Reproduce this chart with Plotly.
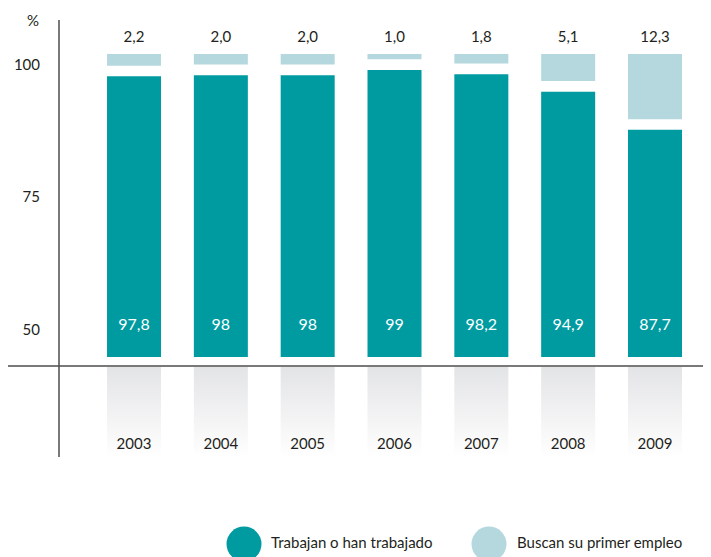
import plotly.graph_objects as go

# ---------------- data ----------------
years = [2003, 2004, 2005, 2006, 2007, 2008, 2009]
trabajan = [97.8, 98, 98, 99, 98.2, 94.9, 87.7]
buscan = [2.2, 2.0, 2.0, 1.0, 1.8, 5.1, 12.3]
y_ticks = [50, 75, 100]
series_names = ["Trabajan o han trabajado", "Buscan su primer empleo"]
unit_label = "%"

# ---------------- style ----------------
DARK = "#009ba1"
LIGHT = "#b5d8de"
TEXT = "#231f20"
LINE = "#4d4d4d"
FONT = "Lato"
OFF = 8                 # page body margin of the html page
W, H = 711 - OFF, 557 - OFF
L = 59 - OFF
PW = W - L
BAR_W = 0.622
GAP = 2.0              # visual gap (axis units) between the two stacked parts
INNER_LABEL_Y = 50.7   # level of the white labels inside dark bars
TOP_LABEL_Y = 104.9    # level of the labels above the light bars
YEAR_LABEL_Y = 0.13    # level of year labels in the decorative band


def fmt_plain(v):
    return ("%g" % v).replace(".", ",")


def fmt_1(v):
    return ("%.1f" % v).replace(".", ",")


def px_x(p):
    return (p - OFF - L) / PW


def px_y(p):
    return (H - (p - OFF)) / H


fig = go.Figure()

fig.add_trace(go.Bar(
    x=years, y=trabajan, width=BAR_W, name=series_names[0],
    marker=dict(color=DARK, line=dict(width=0)), hoverinfo="skip",
))
fig.add_trace(go.Bar(
    x=years, y=buscan, base=[t + GAP for t in trabajan], width=BAR_W,
    name=series_names[1], marker=dict(color=LIGHT, line=dict(width=0)),
    hoverinfo="skip",
))

fig.add_trace(go.Scatter(
    x=years, y=[INNER_LABEL_Y] * len(years), mode="text",
    text=[fmt_plain(v) for v in trabajan],
    textfont=dict(color="white", size=16, family=FONT), hoverinfo="skip",
))
fig.add_trace(go.Scatter(
    x=years, y=[TOP_LABEL_Y] * len(years), mode="text",
    text=[fmt_1(v) for v in buscan],
    textfont=dict(color=TEXT, size=15, family=FONT), hoverinfo="skip",
))

# decorative gradient bands below the axis
for yr in years:
    fig.add_trace(go.Scatter(
        x=[yr - BAR_W / 2, yr + BAR_W / 2, yr + BAR_W / 2, yr - BAR_W / 2, yr - BAR_W / 2],
        y=[0, 0, 1, 1, 0], yaxis="y2", mode="lines", line=dict(width=0),
        fill="toself",
        fillgradient=dict(type="vertical",
                          colorscale=[[0, "#ffffff"], [0.1, "#fcfcfc"], [1, "#e3e4e6"]]),
        hoverinfo="skip",
    ))

fig.add_trace(go.Scatter(
    x=years, y=[YEAR_LABEL_Y] * len(years), yaxis="y2", mode="text",
    text=[str(y) for y in years],
    textfont=dict(color=TEXT, size=15, family=FONT), hoverinfo="skip",
))

shapes = [
    dict(type="line", xref="paper", yref="paper", x0=0, x1=0,
         y0=px_y(457), y1=px_y(20), line=dict(color=LINE, width=1.5)),
    dict(type="line", xref="paper", yref="paper", x0=px_x(8), x1=1,
         y0=px_y(366), y1=px_y(366), line=dict(color=LINE, width=1.5)),
]
annotations = [
    dict(text=unit_label, xref="paper", yref="paper", x=px_x(33), y=px_y(20),
         showarrow=False, xanchor="center", yanchor="middle",
         font=dict(size=15, color=TEXT, family=FONT)),
]
for cx, tx, col, name in [(244, 269, DARK, series_names[0]),
                          (489, 515, LIGHT, series_names[1])]:
    shapes.append(dict(type="circle", xref="paper", yref="paper",
                       xsizemode="pixel", ysizemode="pixel",
                       xanchor=px_x(cx), yanchor=px_y(544),
                       x0=-17.5, x1=17.5, y0=-17.5, y1=17.5,
                       fillcolor=col, line=dict(width=0)))
    annotations.append(dict(text=name, xref="paper", yref="paper",
                            x=px_x(tx), y=px_y(542), showarrow=False,
                            xanchor="left", yanchor="middle",
                            font=dict(size=15, color=TEXT, family=FONT)))

fig.update_layout(
    width=W, height=H, autosize=False,
    margin=dict(l=L, r=0, t=0, b=0),
    paper_bgcolor="white", plot_bgcolor="white",
    barmode="overlay", showlegend=False,
    font=dict(family=FONT, color=TEXT),
    xaxis=dict(range=[2002.136, 2009.645], visible=False, fixedrange=True),
    yaxis=dict(domain=[px_y(357), px_y(20)], range=[44.83, 108.42],
               tickvals=y_ticks, ticktext=[str(v) for v in y_ticks],
               showgrid=False, zeroline=False, showline=False, ticks="",
               ticklabelstandoff=18, tickfont=dict(size=15, color=TEXT, family=FONT),
               fixedrange=True),
    yaxis2=dict(domain=[px_y(457), px_y(367)], range=[0, 1], anchor="x",
                visible=False, fixedrange=True),
    shapes=shapes,
    annotations=annotations,
)

fig.write_html("out.html")
